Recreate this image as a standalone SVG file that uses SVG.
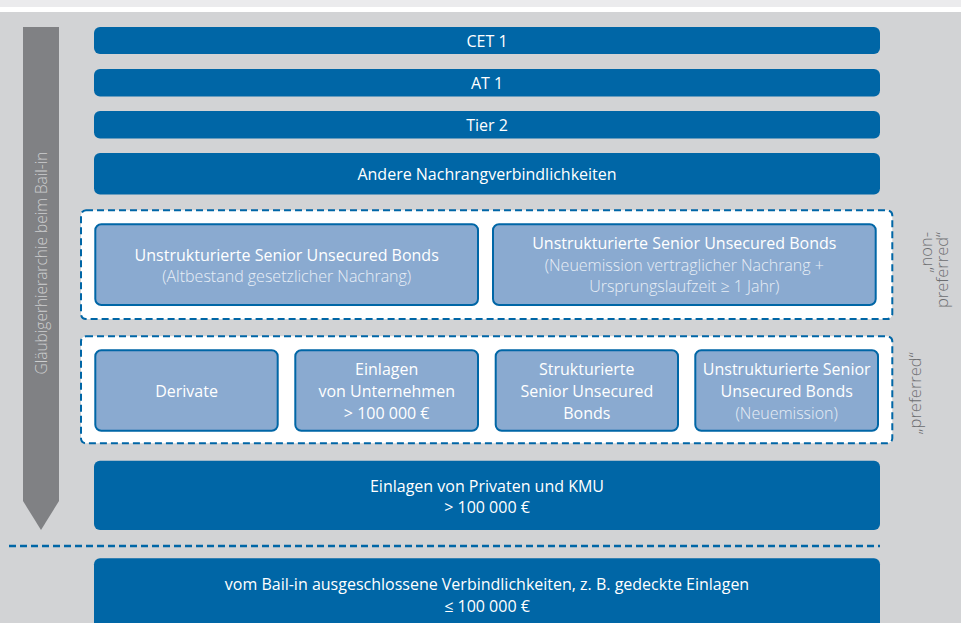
<svg xmlns="http://www.w3.org/2000/svg" width="961" height="623" viewBox="0 0 961 623">
  <style>
    .bg { fill: #d2d3d5; }
    .bar { fill: #0066a6; }
    .lbox { fill: #8aaad0; stroke: #0066a6; stroke-width: 2; }
    .group { fill: #ffffff; stroke: #0066a6; stroke-width: 2; stroke-dasharray: 7 4; }
    .t { font-family: "Open Sans", "Liberation Sans", sans-serif; font-size: 16px; font-weight: 500; fill: #ffffff; text-anchor: middle; }
    .tl { font-family: "Open Sans", "Liberation Sans", sans-serif; font-size: 16px; font-weight: 300; fill: #e8eef6; text-anchor: middle; }
    .side { font-family: "Open Sans", "Liberation Sans", sans-serif; font-size: 16.5px; font-weight: 300; fill: #6d6e71; }
    .axis { font-family: "Open Sans", "Liberation Sans", sans-serif; font-size: 15.5px; font-weight: 300; fill: #cdcecf; text-anchor: middle; }
  </style>
  <rect x="0" y="0" width="961" height="7" fill="#ebebed"/>
  <rect x="0" y="7" width="961" height="5" fill="#ffffff"/>
  <rect class="bg" x="0" y="12" width="961" height="611"/>

  <g id="connectors">
    <g id="hierarchy-arrow">
      <polygon points="23,27 59,27 59,501 41,530 23,501" fill="#808184"/>
      <text class="axis" transform="translate(46.5,263) rotate(-90)" x="0" y="0">Gläubigerhierarchie beim Bail-in</text>
    </g>
    <line id="bailin-separator" x1="9" y1="546" x2="880" y2="546" stroke="#0066a6" stroke-width="2.5" stroke-dasharray="7 4"/>
  </g>

  <g id="cet1">
    <rect class="bar" x="94" y="27" width="786" height="27" rx="6"/>
    <text class="t" x="487" y="46.5">CET 1</text>
  </g>
  <g id="at1">
    <rect class="bar" x="94" y="69" width="786" height="27.5" rx="6"/>
    <text class="t" x="487" y="89">AT 1</text>
  </g>
  <g id="tier2">
    <rect class="bar" x="94" y="111" width="786" height="27.5" rx="6"/>
    <text class="t" x="487" y="131">Tier 2</text>
  </g>
  <g id="andere">
    <rect class="bar" x="94" y="153" width="786" height="41.5" rx="6"/>
    <text class="t" x="487" y="180">Andere Nachrangverbindlichkeiten</text>
  </g>

  <g id="non-preferred">
    <rect class="group" x="81" y="210.3" width="811.3" height="108.7" rx="5"/>
    <text class="side" transform="translate(932,232) rotate(-90)" text-anchor="end"><tspan x="0" y="0">„non-</tspan><tspan x="0" y="15.5">preferred“</tspan></text>
  </g>
  <g id="usb-alt">
    <rect class="lbox" x="95.3" y="224.3" width="382.7" height="80.7" rx="6"/>
    <text class="t" x="286.7" y="260.5">Unstrukturierte Senior Unsecured Bonds</text>
    <text class="tl" x="286.7" y="282">(Altbestand gesetzlicher Nachrang)</text>
  </g>
  <g id="usb-neu-nachrang">
    <rect class="lbox" x="493" y="224.3" width="382.7" height="80.7" rx="6"/>
    <text class="t" x="684.3" y="249">Unstrukturierte Senior Unsecured Bonds</text>
    <text class="tl" x="684.3" y="270.5">(Neuemission vertraglicher Nachrang +</text>
    <text class="tl" x="684.3" y="292">Ursprungslaufzeit ≥ 1 Jahr)</text>
  </g>

  <g id="preferred">
    <rect class="group" x="81" y="336.3" width="811.3" height="107" rx="5"/>
    <text class="side" transform="translate(921,393.5) rotate(-90)" text-anchor="middle" x="0" y="0">„preferred“</text>
  </g>
  <g id="derivate">
    <rect class="lbox" x="95.3" y="350.3" width="182.4" height="80.4" rx="6"/>
    <text class="t" x="186.5" y="396.5">Derivate</text>
  </g>
  <g id="einlagen-unternehmen">
    <rect class="lbox" x="295.3" y="350.3" width="182.7" height="80.4" rx="6"/>
    <text class="t" x="386.7" y="375">Einlagen</text>
    <text class="t" x="386.7" y="396.5">von Unternehmen</text>
    <text class="t" x="386.7" y="418.5">&gt; 100 000 €</text>
  </g>
  <g id="strukturierte">
    <rect class="lbox" x="495.7" y="350.3" width="182.3" height="80.4" rx="6"/>
    <text class="t" x="586.8" y="375">Strukturierte</text>
    <text class="t" x="586.8" y="396.5">Senior Unsecured</text>
    <text class="t" x="586.8" y="418.5">Bonds</text>
  </g>
  <g id="usb-neu">
    <rect class="lbox" x="695.3" y="350.3" width="182.7" height="80.4" rx="6"/>
    <text class="t" x="786.7" y="375">Unstrukturierte Senior</text>
    <text class="t" x="786.7" y="396.5">Unsecured Bonds</text>
    <text class="tl" x="786.7" y="418.5">(Neuemission)</text>
  </g>

  <g id="einlagen-privat">
    <rect class="bar" x="94" y="460.7" width="786" height="69.3" rx="6"/>
    <text class="t" x="487" y="491.5">Einlagen von Privaten und KMU</text>
    <text class="t" x="487" y="513">&gt; 100 000 €</text>
  </g>
  <g id="ausgeschlossen">
    <rect class="bar" x="94" y="558.3" width="786" height="80" rx="6"/>
    <text class="t" x="487" y="590">vom Bail-in ausgeschlossene Verbindlichkeiten, z. B. gedeckte Einlagen</text>
    <text class="t" x="487" y="611.5">≤ 100 000 €</text>
  </g>
</svg>
